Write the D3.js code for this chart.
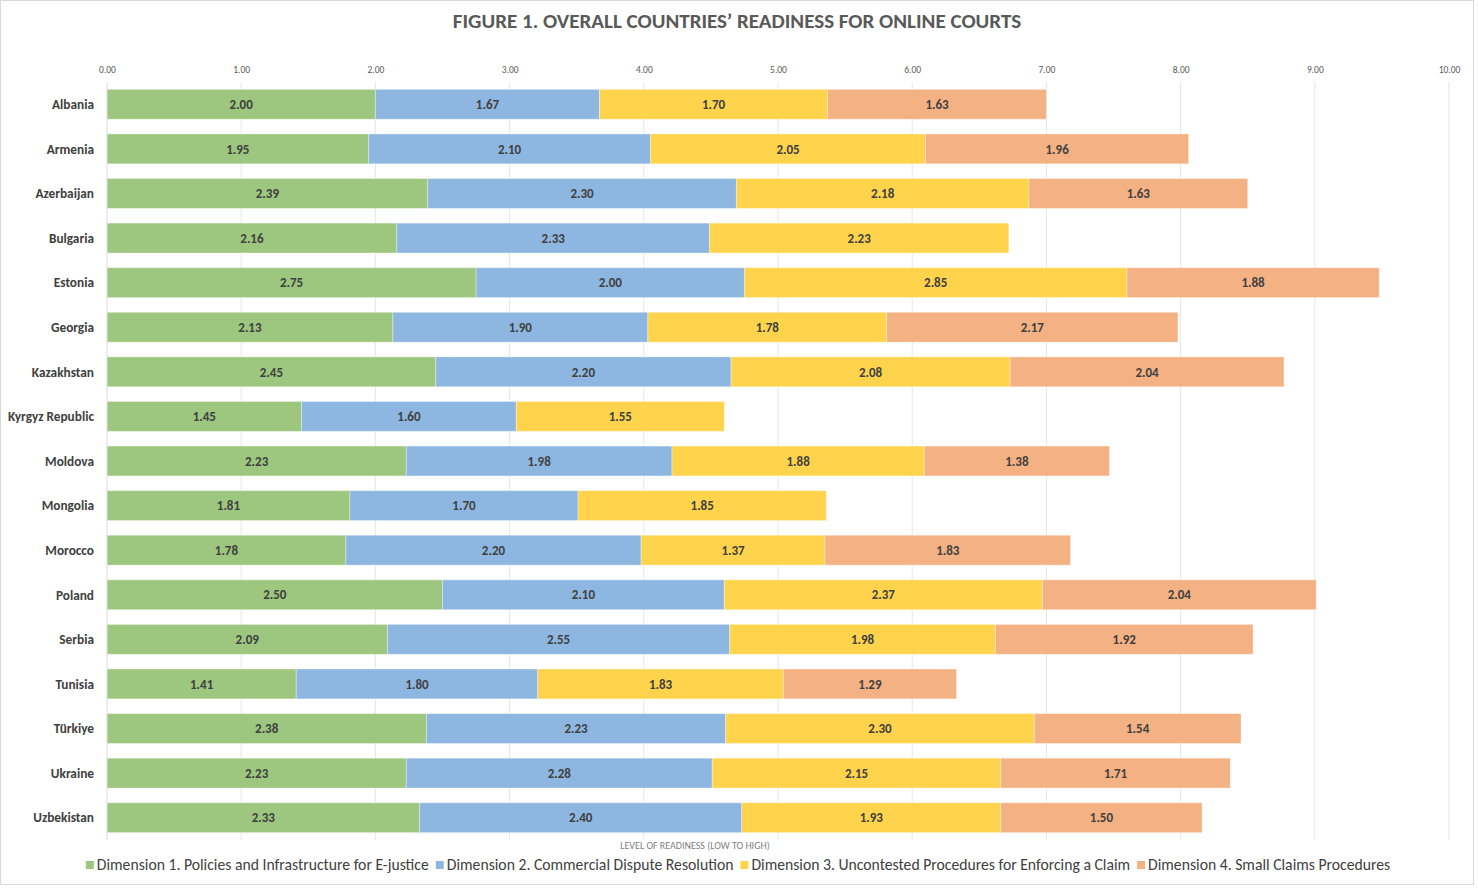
<!DOCTYPE html>
<html><head><meta charset="utf-8">
<script src="https://cdn.jsdelivr.net/npm/d3@7"></script>
<style>
body{margin:0;background:#fff;}
svg{display:block;font-family:Carlito,"Liberation Sans Narrow","Open Sans",sans-serif;}
</style></head>
<body>
<svg id="c" width="1478" height="889"></svg>
<script>
const countries = ["Albania","Armenia","Azerbaijan","Bulgaria","Estonia","Georgia","Kazakhstan","Kyrgyz Republic","Moldova","Mongolia","Morocco","Poland","Serbia","Tunisia","Türkiye","Ukraine","Uzbekistan"];
const dim1 = [2.00,1.95,2.39,2.16,2.75,2.13,2.45,1.45,2.23,1.81,1.78,2.50,2.09,1.41,2.38,2.23,2.33];
const dim2 = [1.67,2.10,2.30,2.33,2.00,1.90,2.20,1.60,1.98,1.70,2.20,2.10,2.55,1.80,2.23,2.28,2.40];
const dim3 = [1.70,2.05,2.18,2.23,2.85,1.78,2.08,1.55,1.88,1.85,1.37,2.37,1.98,1.83,2.30,2.15,1.93];
const dim4 = [1.63,1.96,1.63,0,1.88,2.17,2.04,0,1.38,0,1.83,2.04,1.92,1.29,1.54,1.71,1.50];
const seriesNames = ["Dimension 1. Policies and Infrastructure for E-justice","Dimension 2. Commercial Dispute Resolution","Dimension 3. Uncontested Procedures for Enforcing a Claim","Dimension 4. Small Claims Procedures"];
const colors = ["#9DC67F","#8DB7E1","#FFD44C","#F4B183"];
const xTicks = [0,1,2,3,4,5,6,7,8,9,10];

const svg = d3.select("#c");
svg.append("rect").attr("x",0.5).attr("y",0.5).attr("width",1473).attr("height",884)
  .attr("fill","#fff").attr("stroke","#d9d9d9");

const x = d3.scaleLinear().domain([0,10]).range([107,1449]);
const y = d3.scaleBand().domain(countries).range([82,840]).paddingInner(0.33).paddingOuter(0.165);

// gridlines
svg.append("g").selectAll("line").data(xTicks.slice(1)).join("line")
  .attr("x1",d=>x(d)).attr("x2",d=>x(d)).attr("y1",82).attr("y2",840)
  .attr("stroke","#e6e6e6").attr("stroke-width",1);

// top axis
const ax = svg.append("g").attr("transform","translate(0,76)")
  .call(d3.axisTop(x).tickValues(xTicks).tickFormat(d3.format(".2f")).tickSize(0));
ax.select(".domain").remove();
ax.selectAll("text").attr("fill","#595959").attr("font-size",9.5).attr("font-family","Carlito,'Liberation Sans Narrow','Open Sans',sans-serif");

// stacked bars
const dims = [dim1,dim2,dim3,dim4];
const rows = countries.map((c,i)=>({c, v:dims.map(d=>d[i])}));
const stack = d3.stack().keys([0,1,2,3]).value((r,k)=>r.v[k]);
const layers = stack(rows);
const g = svg.append("g");
layers.forEach((layer,k)=>{
  const lg = g.append("g");
  lg.selectAll("rect").data(layer.filter(d=>d[1]-d[0]>0)).join("rect")
    .attr("x",d=>x(d[0])).attr("width",d=>x(d[1])-x(d[0]))
    .attr("y",d=>y(d.data.c)).attr("height",y.bandwidth())
    .attr("fill",colors[k]).attr("stroke","rgba(255,255,255,0.35)").attr("stroke-width",1);
  lg.selectAll("text").data(layer.filter(d=>d[1]-d[0]>0)).join("text")
    .attr("x",d=>(x(d[0])+x(d[1]))/2).attr("y",d=>y(d.data.c)+y.bandwidth()/2)
    .attr("dy","0.36em").attr("text-anchor","middle")
    .attr("font-size",13).attr("font-weight","bold").attr("fill","#404040")
    .text(d=>(d[1]-d[0]).toFixed(2));
});

// left axis line
svg.append("line").attr("x1",107).attr("x2",107).attr("y1",82).attr("y2",840)
  .attr("stroke","#d9d9d9");

// category labels
svg.append("g").selectAll("text").data(countries).join("text")
  .attr("x",94).attr("y",d=>y(d)+y.bandwidth()/2).attr("dy","0.36em")
  .attr("text-anchor","end").attr("font-size",13.3).attr("font-weight","bold").attr("fill","#404040")
  .text(d=>d);

// title
svg.append("text").attr("x",737).attr("y",28).attr("text-anchor","middle")
  .attr("font-size",21).attr("font-weight","bold").attr("fill","#595959")
  .text("FIGURE 1. OVERALL COUNTRIES’ READINESS FOR ONLINE COURTS");

// axis title
svg.append("text").attr("x",695).attr("y",849).attr("text-anchor","middle")
  .attr("font-size",10).attr("fill","#7f7f7f")
  .text("LEVEL OF READINESS (LOW TO HIGH)");

// legend
const leg = svg.append("g");
let lx = 0;
seriesNames.forEach((n,k)=>{
  const it = leg.append("g");
  it.append("rect").attr("x",0).attr("y",-9).attr("width",8).attr("height",8).attr("fill",colors[k]);
  const t = it.append("text").attr("x",11).attr("y",0).attr("font-size",15.7).attr("fill","#404040").text(n);
  const w = 11 + t.node().getComputedTextLength();
  it.attr("transform",`translate(${lx},870)`);
  lx += w + 7;
});
const total = lx - 7;
leg.attr("transform",`translate(${738 - total/2},0)`);
</script>
</body></html>
